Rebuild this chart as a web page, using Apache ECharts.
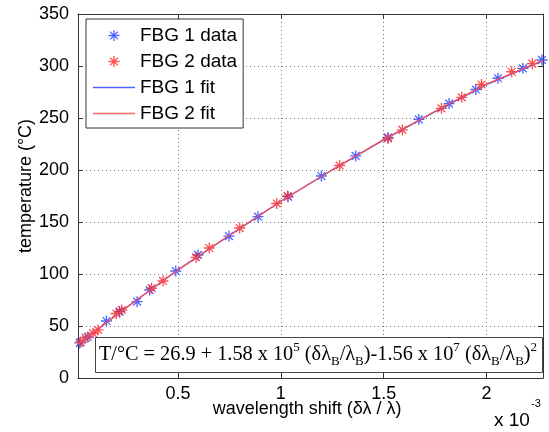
<!DOCTYPE html>
<html><head><meta charset="utf-8">
<script src="https://cdn.jsdelivr.net/npm/echarts@6/dist/echarts.min.js"></script>
<style>html,body{margin:0;padding:0;background:#fff}#c{width:549px;height:432px}</style>
</head><body><div id="c"></div>
<script>
// wavelength shift in units of 1e-3, temperature in °C
const xMin = 0.0136, xMax = 2.275;
const yTicks = [0, 50, 100, 150, 200, 250, 300, 350];
const xTickLabels = [0.5, 1, 1.5, 2];
const fbg1Shift = [0.022, 0.061, 0.152, 0.216, 0.301, 0.362, 0.489, 0.597, 0.748, 0.889, 1.035, 1.197, 1.364, 1.521, 1.671, 1.818, 1.948, 2.056, 2.177, 2.27];
const fbg1Temp  = [33.7, 39.4, 54.8, 63.8, 73.4, 84.6, 102.9, 118.3, 136.5, 155.1, 174.3, 194.2, 213.5, 231.3, 248.6, 263.9, 277.4, 288.2, 297.8, 305.8];
const fbg2Shift = [0.027, 0.051, 0.087, 0.111, 0.200, 0.226, 0.371, 0.427, 0.588, 0.652, 0.800, 0.980, 1.033, 1.286, 1.521, 1.591, 1.781, 1.880, 1.976, 2.123, 2.223];
const fbg2Temp  = [34.6, 38.5, 43.0, 46.2, 62.0, 65.4, 86.3, 93.3, 115.9, 125.0, 144.2, 167.8, 175.0, 204.3, 230.3, 238.5, 259.3, 269.9, 282.2, 294.5, 302.2];
const fitShift  = [0.0136, 0.25, 0.5, 0.75, 1.0, 1.25, 1.5, 1.75, 2.0, 2.275];
const fit1Temp  = [32.5, 68, 104, 137, 170, 200, 229, 256, 282, 305.5];
const fit2Temp  = [32.8, 67.8, 104, 137.2, 170, 200.3, 229.2, 256.5, 282.5, 305.5];

const star = 'path://M8.8 0L11.2 0L11.2 20L8.8 20Z M0 8.8L20 8.8L20 11.2L0 11.2Z M2.1 3.8L3.8 2.1L17.9 16.2L16.2 17.9Z M16.2 2.1L17.9 3.8L3.8 17.9L2.1 16.2Z';
const lineIcon = 'path://M0 0L42 0L42 1.4L0 1.4Z';
const FONT = 'Liberation Sans';
const axisColor = '#333';
const zip = (a, b) => a.map((v, i) => [v, b[i]]);
const isTick = v => xTickLabels.some(t => Math.abs(t - v) < 1e-6);

const chart = echarts.init(document.getElementById('c'));
const baseX = {
  type: 'value', min: xMin, max: xMax, splitNumber: 5,
  axisLine: { show: true, onZero: false, lineStyle: { color: axisColor, width: 1 } },
  axisTick: { show: true, inside: true, length: 5, lineStyle: { color: axisColor } }
};
const baseY = {
  type: 'value', min: yTicks[0], max: yTicks[yTicks.length - 1], interval: 50,
  axisLine: { show: true, onZero: false, lineStyle: { color: axisColor, width: 1 } },
  axisTick: { show: true, inside: true, length: 5, lineStyle: { color: axisColor } }
};
const grid = { left: 78, right: 6, top: 14, bottom: 54 };
chart.setOption({
  animation: false,
  backgroundColor: '#fff',
  grid: grid,
  xAxis: [
    Object.assign({}, baseX, {
      position: 'bottom',
      axisLabel: { show: true, margin: 7, color: '#000', fontSize: 18, fontFamily: FONT,
        formatter: v => isTick(v) ? String(Math.round(v * 10) / 10) : '' },
      splitLine: { show: true, lineStyle: { color: '#777', type: [1, 3], width: 1 } }
    }),
    Object.assign({}, baseX, { position: 'top', axisLabel: { show: false }, splitLine: { show: false } })
  ],
  yAxis: [
    Object.assign({}, baseY, {
      position: 'left',
      axisLabel: { show: true, margin: 9, color: '#000', fontSize: 18, fontFamily: FONT },
      splitLine: { show: true, lineStyle: { color: '#777', type: [1, 3], width: 1 } }
    }),
    Object.assign({}, baseY, { position: 'right', axisLabel: { show: false }, splitLine: { show: false } })
  ],
  legend: {
    orient: 'vertical', left: 86, top: 19,
    padding: [7, 6, 5, 7], itemGap: 7, itemWidth: 42, itemHeight: 11,
    backgroundColor: '#fff', borderColor: axisColor, borderWidth: 1,
    textStyle: { fontSize: 19, fontFamily: FONT, color: '#000' },
    data: [
      { name: 'FBG 1 data', icon: star },
      { name: 'FBG 2 data', icon: star },
      { name: 'FBG 1 fit', icon: lineIcon, itemStyle: { color: '#4a62ff' } },
      { name: 'FBG 2 fit', icon: lineIcon, itemStyle: { color: '#ff6a6a' } }
    ]
  },
  series: [
    { name: 'FBG 1 data', type: 'scatter', symbol: star, symbolSize: 11, clip: false,
      itemStyle: { color: '#2040ff' }, data: zip(fbg1Shift, fbg1Temp) },
    { name: 'FBG 2 data', type: 'scatter', symbol: star, symbolSize: 11, clip: false,
      itemStyle: { color: '#ff2020' }, data: zip(fbg2Shift, fbg2Temp) },
    { name: 'FBG 1 fit', type: 'line', symbol: 'none', showSymbol: false, lineStyle: { color: '#3050ff', width: 1.3 },
      itemStyle: { color: '#3050ff' }, data: zip(fitShift, fit1Temp) },
    { name: 'FBG 2 fit', type: 'line', symbol: 'none', showSymbol: false, lineStyle: { color: '#ff5050', width: 1.3 },
      itemStyle: { color: '#ff5050' }, data: zip(fitShift, fit2Temp) }
  ],
  graphic: [
    { type: 'text', x: 26, y: 186, rotation: Math.PI / 2, z: 10,
      style: { text: 'temperature (°C)', fontSize: 18, fontFamily: FONT, fill: '#000', align: 'center', verticalAlign: 'middle' } },
    { type: 'text', x: 307, y: 409, z: 10,
      style: { text: 'wavelength shift (δλ / λ)', fontSize: 18, fontFamily: FONT, fill: '#000', align: 'center', verticalAlign: 'middle' } },
    { type: 'text', x: 494, y: 421, z: 10,
      style: { text: 'x 10', fontSize: 19, fontFamily: FONT, fill: '#000', align: 'left', verticalAlign: 'middle' } },
    { type: 'text', x: 531, y: 404, z: 10,
      style: { text: '-3', fontSize: 11, fontFamily: FONT, fill: '#000', align: 'left', verticalAlign: 'middle' } },
    { type: 'rect', shape: { x: 95.5, y: 337.5, width: 447, height: 35 }, z: 20,
      style: { fill: '#fff', stroke: '#444', lineWidth: 1 } },
    { type: 'text', x: 318, y: 355, z: 21,
      style: {
        text: '{n|T/°C = 26.9 + 1.58 x 10}{sup|5}{n| (δλ}{sub|B}{n|/λ}{sub|B}{n|)-1.56 x 10}{sup|7}{n| (δλ}{sub|B}{n|/λ}{sub|B}{n|)}{sup|2}',
        align: 'center', verticalAlign: 'middle',
        rich: {
          n: { fontSize: 20.3, fontFamily: 'Liberation Serif', fill: '#000', lineHeight: 27, verticalAlign: 'middle' },
          sup: { fontSize: 13, fontFamily: 'Liberation Serif', fill: '#000', lineHeight: 15, verticalAlign: 'top' },
          sub: { fontSize: 13, fontFamily: 'Liberation Serif', fill: '#000', lineHeight: 15, verticalAlign: 'bottom' }
        }
      } }
  ]
});
</script></body></html>
